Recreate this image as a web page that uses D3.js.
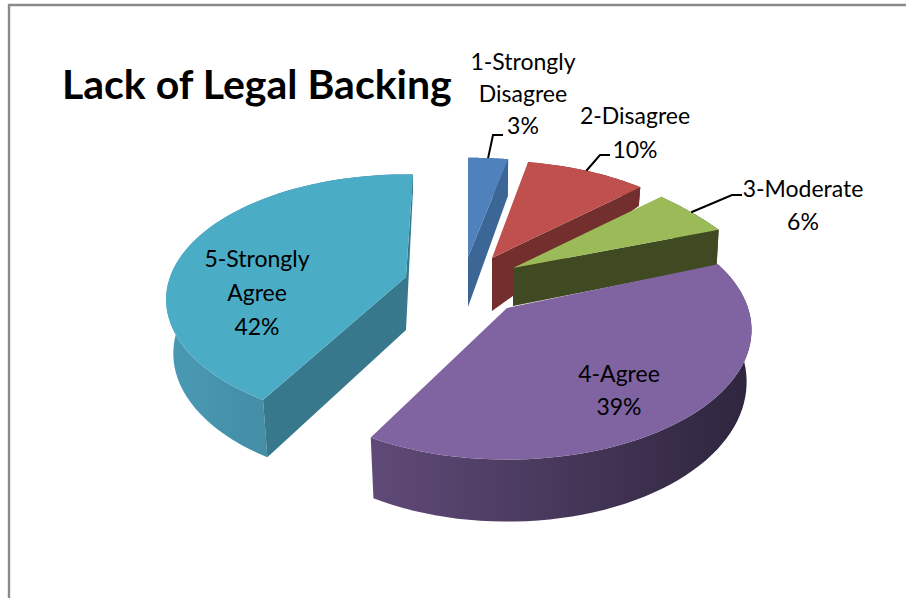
<!DOCTYPE html>
<html>
<head>
<meta charset="utf-8">
<script src="https://cdn.jsdelivr.net/npm/d3@7"></script>
<style>
  html, body { margin: 0; padding: 0; background: #fff; overflow: hidden; }
  text { font-family: Lato, sans-serif; fill: #000; }
</style>
</head>
<body>
<script>
const categories = ['1-Strongly Disagree', '2-Disagree', '3-Moderate', '4-Agree', '5-Strongly Agree']
const values = [3, 10, 6, 39, 42]
const topColors = ['#4f81bd', '#c0504d', '#9bbb59', '#8064a2', '#4bacc6']
const faceColors = ['#3c6696', '#722f2d', '#3f4a22', '#3a2e4c', '#37788c']
const wallLeft = ['#3c6696', '#722f2d', '#3f4a22', '#604a78', '#4a9ab4']
const wallRight = ['#3c6696', '#722f2d', '#3f4a22', '#2e253d', '#3a7a90']

// one row per slice, the apex is where the exploded slice ended up
const apexX = [468, 492, 513, 507, 406]
const apexY = [257, 258, 268, 308, 277]
const radiusX = [273, 236, 247, 241, 236]
const radiusY = [127, 120, 104, 126, 121]
const perspX = [0.28, 0.234, 0.317, 0.169, 0.18]
const perspY = [0.28, 0.234, 0, 0.169, 0.18]
const rotate = [0, 0, 0, 0, 2]
const depthApex = [50, 53, 38, 50, 53]
const depthFar = [13, 50, 5, 0, 33]
const depthNear = [0, 0, 0, 12, 5]
const bottomScale = [0.99, 0.99, 0.99, 0.98, 0.97]
const cutFaces = [['end'], ['end'], ['end'], [], ['start', 'end']]

const labelLines = [['1-Strongly', 'Disagree', '3%'], ['2-Disagree', '10%'], ['3-Moderate', '6%'], ['4-Agree', '39%'], ['5-Strongly', 'Agree', '42%']]
const labelX = [523, 635, 803, 619, 257]
const labelY = [70, 124, 197, 382, 267]
const lineGap = [32, 34, 33, 33, 34]
const leaderElbow = [[493, 135, 503], [600, 155, 610], [732, 195, 742], null, null]

const svg = d3.select('body').append('svg').attr('width', 906).attr('height', 598)
const defs = svg.append('defs')

// frame of the pasted chart
svg.append('path')
  .attr('d', 'M9,598V5H906')
  .attr('fill', 'none')
  .attr('stroke', '#8a8a8a')
  .attr('stroke-width', 2.4)

const pie = d3.pie().sort(null).value(d => d)
const arcs = pie(values)

function project (i, angle, r, low) {
  const a = angle + rotate[i] * Math.PI / 180
  const u = r * Math.sin(a)
  const v = -r * Math.cos(a)
  const x = radiusX[i] * u / (1 - perspX[i] * v)
  const y = radiusY[i] * v / (1 - perspY[i] * v)
  if (!low) return [apexX[i] + x, apexY[i] + y]
  const depth = depthApex[i] + (v < 0 ? depthFar[i] * v : depthNear[i] * v)
  return [apexX[i] + x * bottomScale[i], apexY[i] + y + depth]
}

const line = d3.line()
const gs = svg.selectAll('g.slice').data(arcs).join('g').attr('class', 'slice')

gs.each(function (d, i) {
  const g = d3.select(this)
  const steps = d3.range(0, 61).map(k => d.startAngle + (d.endAngle - d.startAngle) * k / 60)
  const rimTop = steps.map(a => project(i, a, 1, false))
  const rimLow = steps.map(a => project(i, a, 1, true))

  // outer wall, with the horizontal shading excel gives it
  const id = 'wall' + i
  const xs = rimTop.concat(rimLow).map(p => p[0])
  const grad = defs.append('linearGradient').attr('id', id)
    .attr('gradientUnits', 'userSpaceOnUse')
    .attr('x1', d3.min(xs)).attr('x2', d3.max(xs)).attr('y1', 0).attr('y2', 0)
  grad.append('stop').attr('offset', 0).attr('stop-color', wallLeft[i])
  grad.append('stop').attr('offset', 1).attr('stop-color', wallRight[i])
  g.append('path')
    .attr('d', line(rimTop.concat(rimLow.slice().reverse())) + 'Z')
    .attr('fill', `url(#${id})`)

  // cut faces
  cutFaces[i].forEach(side => {
    const a = side === 'start' ? d.startAngle : d.endAngle
    g.append('path')
      .attr('d', line([project(i, a, 0, false), project(i, a, 1, false), project(i, a, 1, true), project(i, a, 0, true)]) + 'Z')
      .attr('fill', faceColors[i])
  })

  // top surface
  g.append('path')
    .attr('d', line([project(i, 0, 0, false)].concat(rimTop)) + 'Z')
    .attr('fill', topColors[i])
})

// leader lines start on the rim at the middle of the slice
arcs.forEach((d, i) => {
  if (!leaderElbow[i]) return
  const start = project(i, (d.startAngle + d.endAngle) / 2, 1, false)
  const e = leaderElbow[i]
  svg.append('path')
    .attr('d', line([start, [e[0], e[1]], [e[2], e[1]]]))
    .attr('fill', 'none')
    .attr('stroke', '#000')
    .attr('stroke-width', 2)
})

svg.append('text')
  .attr('x', 62)
  .attr('y', 99)
  .attr('font-size', 41)
  .attr('font-weight', 700)
  .text('Lack of Legal Backing')

labelLines.forEach((lines, i) => {
  svg.append('text')
    .attr('text-anchor', 'middle')
    .attr('font-size', 23)
    .selectAll('tspan')
    .data(lines)
    .join('tspan')
    .attr('x', labelX[i])
    .attr('y', (t, k) => labelY[i] + k * lineGap[i])
    .text(t => t)
})
</script>
</body>
</html>
